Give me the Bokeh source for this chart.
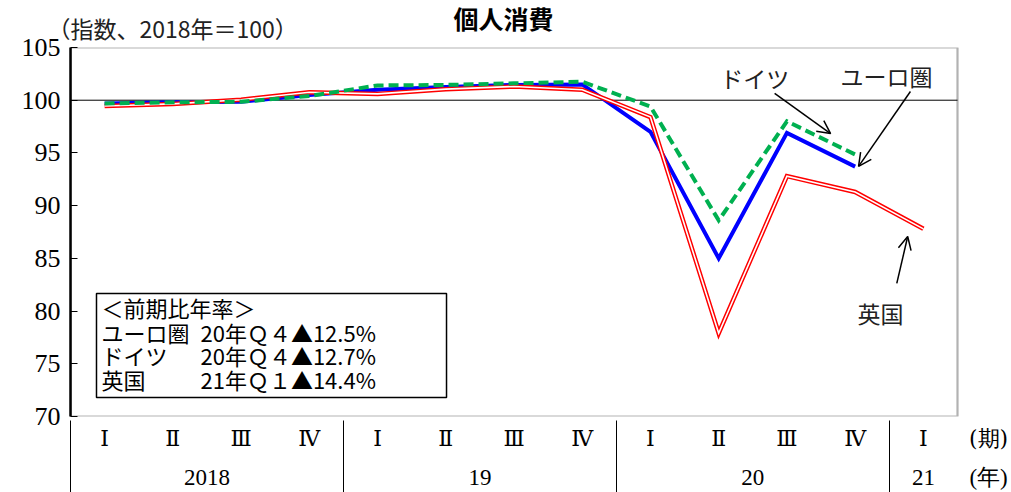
import numpy as np
from bokeh.plotting import figure
from bokeh.models import (Range1d, FixedTicker, LinearAxis, Label, Arrow, Title,
                          OpenHead, BoxAnnotation, ColumnDataSource)
from bokeh.core.properties import value
from bokeh.embed import file_html
from bokeh.resources import INLINE

# ---------------- data ----------------
quarters = ["Ⅰ", "Ⅱ", "Ⅲ", "Ⅳ", "Ⅰ", "Ⅱ", "Ⅲ", "Ⅳ", "Ⅰ", "Ⅱ", "Ⅲ", "Ⅳ", "Ⅰ"]
years = ["2018", "2018", "2018", "2018", "19", "19", "19", "19",
         "20", "20", "20", "20", "21"]
euro = [99.7, 99.8, 99.85, 100.5, 101.0, 101.25, 101.45, 101.5, 97.0, 85.0, 96.9, 93.7]
germany = [99.7, 99.8, 99.85, 100.4, 101.4, 101.45, 101.6, 101.75, 99.4, 88.6, 98.0, 94.85]
uk = [99.45, 99.65, 100.05, 100.75, 100.6, 101.05, 101.3, 101.0, 98.4, 77.9, 92.8, 91.3, 87.8]
y_ticks = [70, 75, 80, 85, 90, 95, 100, 105]
base_level = 100
title_text = "個人消費"
unit_text = "（指数、2018年＝100）"
quarter_caption = "(期)"
year_caption = "(年)"
legend_header = "＜前期比年率＞"
legend_names = ["ユーロ圏", "ドイツ", "英国"]
legend_values = ["20年Ｑ４▲12.5%", "20年Ｑ４▲12.7%", "21年Ｑ１▲14.4%"]

JP = "Noto Sans CJK JP"
SERIF = "Liberation Serif"

n = len(quarters)
xq = np.arange(n) + 0.5

groups = []
start = 0
for i in range(1, n + 1):
    if i == n or years[i] != years[start]:
        groups.append((years[start], start, i))
        start = i
year_pos = [(s + e) / 2 for _, s, e in groups]
bounds = [float(s) for _, s, e in groups]

# plot box spans 0..n; the frame extends to the right to hold the axis captions
x_end = n * 941 / 887
cap_x = n + 0.455

# ---------------- figure ----------------
p = figure(width=1011, height=492, x_range=Range1d(0, x_end), y_range=Range1d(70, 105),
           output_backend="svg", toolbar_location=None, title=None,
           min_border_left=70, min_border_right=0, min_border_top=47, min_border_bottom=76)
p.grid.visible = False
p.outline_line_color = None
p.background_fill_color = "white"
p.border_fill_color = "white"

# titles
p.add_layout(Title(text=unit_text, align="left", offset=-23, standoff=6,
                   text_font=JP, text_font_size="23px", text_font_style="normal",
                   text_color="#222222"), "above")
p.add_layout(Title(text=title_text, align="left", offset=383, standoff=-60,
                   text_font=JP, text_font_size="25px", text_font_style="bold",
                   text_color="black"), "above")

# y axis
ya = p.yaxis[0]
ya.ticker = FixedTicker(ticks=y_ticks)
ya.major_tick_in = 7
ya.major_tick_out = 0
ya.minor_tick_line_color = None
ya.axis_line_width = 2.5
ya.major_label_standoff = 10
ya.major_label_text_font = SERIF
ya.major_label_text_font_size = "26px"
ya.major_label_text_color = "black"

# x axis: quarters (+ caption)
xa = p.xaxis[0]
xa.ticker = FixedTicker(ticks=list(xq) + [cap_x])
ov = {float(x): q for x, q in zip(xq, quarters)}
ov[cap_x] = quarter_caption
xa.major_label_overrides = ov
xa.axis_line_color = None
xa.major_tick_line_color = None
xa.minor_tick_line_color = None
xa.major_label_standoff = 3
xa.major_label_text_font = "DejaVu Serif"
xa.major_label_text_font_size = "22px"
xa.major_label_text_color = "black"

# x axis: years (+ caption)
ya2 = LinearAxis(ticker=FixedTicker(ticks=year_pos + [cap_x]))
ov2 = {float(x): g[0] for x, g in zip(year_pos, groups)}
ov2[cap_x] = year_caption
ya2.major_label_overrides = ov2
ya2.axis_line_color = None
ya2.major_tick_line_color = None
ya2.minor_tick_line_color = None
ya2.major_label_standoff = 5
ya2.major_label_text_font = SERIF
ya2.major_label_text_font_size = "23px"
ya2.major_label_text_color = "black"
p.add_layout(ya2, "below")

# x axis: group separators
sep = LinearAxis(ticker=FixedTicker(ticks=bounds),
                 major_label_overrides={b: "" for b in bounds})
sep.axis_line_color = None
sep.minor_tick_line_color = None
sep.major_tick_in = 72
sep.major_tick_out = 0
sep.major_tick_line_color = "black"
sep.major_tick_line_width = 1
sep.major_label_standoff = 0
sep.major_label_text_font_size = "1px"
p.add_layout(sep, "below")

# plot box
p.add_layout(BoxAnnotation(left=0, right=n, bottom=70, top=105, fill_color=None,
                           line_color="black", line_width=2.2, level="overlay"))

# 100 line
p.segment(x0=[0], x1=[n], y0=[base_level], y1=[base_level], line_color="black",
          line_width=1)

# series
p.line(xq[:len(euro)], euro, line_color="#0000FF", line_width=4, line_join="miter")
p.line(xq[:len(uk)], uk, line_color="#FF0000", line_width=4.5, line_join="miter")
p.line(xq[:len(uk)], uk, line_color="white", line_width=1.6, line_join="miter")
p.line(xq[:len(germany)], germany, line_color="#00B050", line_width=4,
       line_dash="10 5", line_join="miter")

# legend box
p.add_layout(BoxAnnotation(left=0.381, right=5.511, top=81.67, bottom=71.80,
                           fill_color=None, line_color="black", line_width=1.5,
                           line_alpha=1))
row_y = [80.34, 78.06, 75.79, 73.51]
p.text(x=[0.454], y=[row_y[0]], text=[legend_header], text_font=value(JP),
       text_font_size="22px", text_baseline="middle", text_color="black")
src = ColumnDataSource(dict(name=legend_names, val=legend_values,
                            xn=[0.454] * 3, xv=[1.905] * 3, y=row_y[1:]))
p.text(x="xn", y="y", text="name", source=src, text_font=value(JP),
       text_font_size="22px", text_baseline="middle", text_color="black")
p.text(x="xv", y="y", text="val", source=src, text_font=value(JP),
       text_font_size="22px", text_baseline="middle", text_color="black")

# annotations
for txt, x, y in [("ドイツ", 10.03, 102.15), ("ユーロ圏", 11.96, 102.25), ("英国", 11.87, 79.77)]:
    p.add_layout(Label(x=x, y=y, text=txt, text_align="center", text_baseline="middle",
                       text_font=JP, text_font_size="23px", text_color="#222222"))
for xs, ys, xe, ye in [(10.32, 100.64, 11.14, 96.84), (12.31, 100.83, 11.55, 93.72),
                       (12.11, 82.62, 12.27, 87.07)]:
    p.add_layout(Arrow(end=OpenHead(size=13, line_width=1.5, line_color="black"),
                       x_start=xs, y_start=ys, x_end=xe, y_end=ye,
                       line_color="black", line_width=1.5))

open("out.html", "w").write(file_html(p, INLINE))
